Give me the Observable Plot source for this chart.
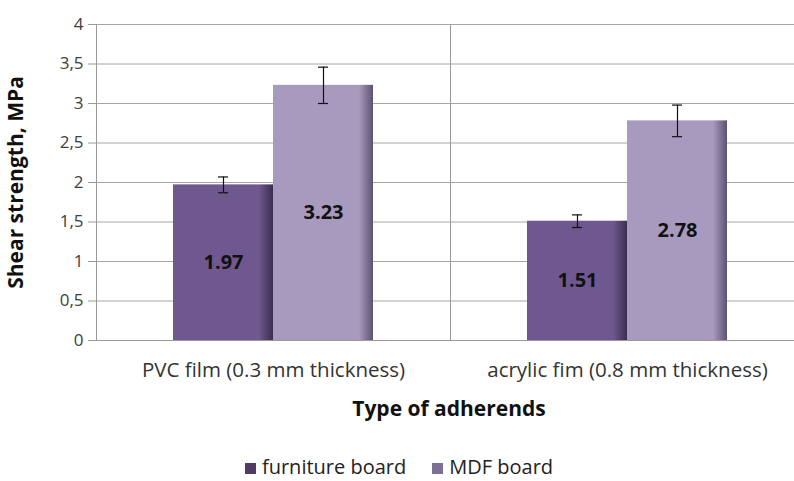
<!DOCTYPE html>
<html>
<head>
<meta charset="utf-8">
<script src="https://cdn.jsdelivr.net/npm/d3@7"></script>
<script src="https://cdn.jsdelivr.net/npm/@observablehq/plot@0.6"></script>
<style>
  body { margin: 0; background: #fff; font-family: "Open Sans", sans-serif; overflow: hidden; }
  #wrap { width: 794px; }
  #xtitle { text-align: center; font-weight: bold; font-size: 21px; color: #111; margin-top: 9px; height: 28px; line-height: 28px; padding-left: 104px; box-sizing: border-box; }
  #legend { display: flex; justify-content: center; gap: 26px; font-size: 20px; color: #222; margin-top: 35px; padding-left: 4px; line-height: 20px; height: 20px; }
  .sw { display: inline-block; width: 11px; height: 11px; margin-right: 6px; vertical-align: 0px; }
</style>
</head>
<body>
<div id="wrap">
  <div id="chart"></div>
  <div id="xtitle">Type of adherends</div>
  <div id="legend"></div>
</div>
<script>
const categories = ["PVC film (0.3 mm thickness)", "acrylic fim (0.8 mm thickness)"];
const series = ["furniture board", "MDF board"];
const furnitureValues = [1.97, 1.51];
const mdfValues = [3.23, 2.78];
const furnitureErrors = [0.1, 0.08];
const mdfErrors = [0.23, 0.2];
const yTicks = [0, 0.5, 1, 1.5, 2, 2.5, 3, 3.5, 4];
const colors = ["#6f5890", "#a899be"];
const edgeColors = ["#3b2d4e", "#5e5271"];
const swatchColors = ["#4d3c66", "#7d7094"];

const data = [];
categories.forEach((c, i) => {
  data.push({category: c, series: series[0], value: furnitureValues[i], err: furnitureErrors[i]});
  data.push({category: c, series: series[1], value: mdfValues[i], err: mdfErrors[i]});
});

function defs() {
  const d = d3.create("svg:defs");
  series.forEach((s, i) => {
    const g = d.append("linearGradient").attr("id", "grad" + i).attr("x1", 0).attr("x2", 1).attr("y1", 0).attr("y2", 0);
    g.append("stop").attr("offset", "0%").attr("stop-color", colors[i]);
    g.append("stop").attr("offset", "86%").attr("stop-color", colors[i]);
    g.append("stop").attr("offset", "100%").attr("stop-color", edgeColors[i]);
  });
  return d.node();
}

const chart = Plot.plot({
  width: 794,
  height: 385,
  marginLeft: 96,
  marginRight: -10,
  marginTop: 24,
  marginBottom: 45,
  style: {fontFamily: "'Open Sans', sans-serif", fontSize: "17px", color: "#404040", background: "#fff"},
  fx: {domain: categories, padding: 0, label: null},
  x: {domain: series, paddingInner: 0, paddingOuter: 0.77, axis: null},
  y: {domain: [0, 4], label: null},
  marks: [
    defs,
    Plot.ruleY(yTicks, {stroke: "#a6a6a6", strokeWidth: 1}),
    Plot.frame({anchor: "left", stroke: "#999"}),
    Plot.axisY({ticks: yTicks, tickFormat: d => String(d).replace(".", ","), tickSize: 8, tickPadding: 5, stroke: "#999", fontSize: 17, fill: "#404040",
      label: "Shear strength, MPa", labelAnchor: "center", labelArrow: "none", labelOffset: 88}),
    Plot.axisFx({anchor: "bottom", tickSize: 0, tickPadding: 22, fontSize: 20.5, fill: "#333", label: null}),
    Plot.barY(data, {fx: "category", x: "series", y: "value", fill: d => "url(#grad" + series.indexOf(d.series) + ")"}),
    Plot.ruleX(data, {fx: "category", x: "series", y1: d => d.value - d.err, y2: d => d.value + d.err, stroke: "#111", strokeWidth: 1.2}),
    Plot.tickY(data, {fx: "category", x: "series", y: d => d.value - d.err, stroke: "#111", insetLeft: 45, insetRight: 45, strokeWidth: 1.2}),
    Plot.tickY(data, {fx: "category", x: "series", y: d => d.value + d.err, stroke: "#111", insetLeft: 45, insetRight: 45, strokeWidth: 1.2}),
    Plot.text(data, {fx: "category", x: "series", y: d => d.value / 2, text: d => d.value.toFixed(2), fontWeight: "bold", fontSize: 20, fill: "#111"}),
    Plot.ruleY([0], {stroke: "#999"})
  ]
});
document.getElementById("chart").appendChild(chart);

d3.select(chart).selectAll("[aria-label='y-axis label'] text").attr("font-weight", "bold").attr("fill", "#111").attr("font-size", 21);

const legend = d3.select("#legend");
series.forEach((s, i) => {
  const item = legend.append("span");
  item.append("span").attr("class", "sw").style("background", swatchColors[i]);
  item.append("span").text(s);
});
</script>
</body>
</html>
